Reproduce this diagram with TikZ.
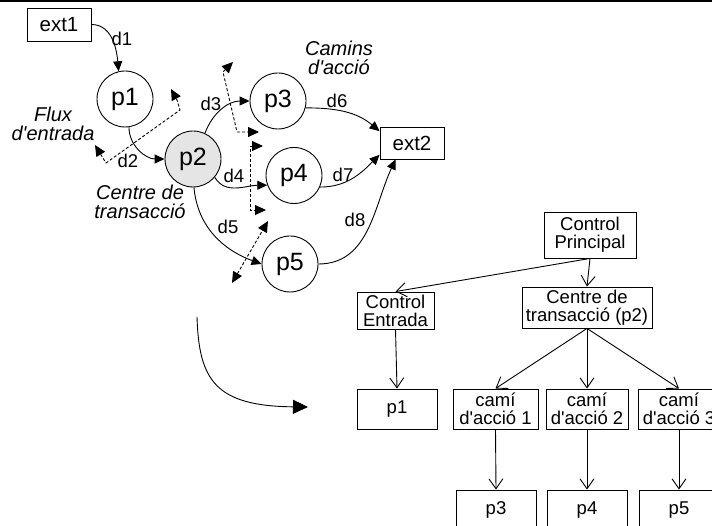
\documentclass[tikz,border=0pt]{standalone}
\usepackage{fontspec}
\setmainfont{Liberation Sans}
\usetikzlibrary{arrows.meta}
\newcommand\ap{\textquotesingle}
\begin{document}
\begin{tikzpicture}[x=1pt,y=1pt,line width=0.9pt,
  ebox/.style={draw,minimum width=64pt,minimum height=33pt,inner sep=0pt,font=\fontsize{20.5}{20}\selectfont},
  proc/.style={draw,circle,minimum size=56pt,inner sep=0pt,font=\fontsize{25}{25}\selectfont},
  dlab/.style={inner sep=0pt,font=\fontsize{18.5}{18}\selectfont},
  ilab/.style={inner sep=0pt,align=center,font=\fontsize{20}{19.5}\selectfont\itshape},
  tbox/.style={draw,inner sep=0pt,align=center,font=\fontsize{18.5}{18}\selectfont},
  flow/.style={-{Triangle[length=10pt,width=9pt]}},
  dflow/.style={dash pattern=on 3pt off 2pt,{Triangle[length=11pt,width=10pt]}-{Triangle[length=11pt,width=10pt]}},
  tarr/.style={-{Straight Barb[length=10pt,width=14pt]}}
]
\clip (0,0) rectangle (712,-526);
\draw[line width=2pt] (0,-1.5) -- (712,-1.5);

% data flow diagram
\node[ebox] (ext1) at (59,-24.5) {ext1};
\node[ebox,minimum height=32pt] (ext2) at (412,-143) {ext2};
\node[proc] (p1) at (125,-99) {p1};
\node[proc,fill=gray!20] (p2) at (193,-159) {p2};
\node[proc] (p3) at (278,-101) {p3};
\node[proc] (p4) at (294,-175.5) {p4};
\node[proc] (p5) at (290,-264) {p5};

\draw[flow] (ext1.east) to[out=0,in=95] (p1.103);
\draw[flow] (p1.-82) to[out=-90,in=180] (p2.180);
\draw[flow] (p2.65) to[out=70,in=180] (p3.180);
\draw[flow] (p2.-40) to[out=-60,in=180] (p4.200);
\draw[flow] (p2.-88) to[out=-85,in=160] (p5.180);
\draw[flow] (p3.-14) to[out=0,in=140] (ext2.160);
\draw[flow] (p4.-24) to[out=0,in=225] (ext2.-160);
\draw[flow] (p5.0) to[out=0,in=-115] (ext2.-135);

\node[dlab] (ld1) at (122,-39) {d1};
\node[dlab] (ld2) at (128,-161) {d2};
\node[dlab] (ld3) at (211,-104) {d3};
\node[dlab] (ld4) at (234,-176) {d4};
\node[dlab] (ld5) at (228,-227) {d5};
\node[dlab] (ld6) at (337,-101) {d6};
\node[dlab] (ld7) at (343,-175) {d7};
\node[dlab] (ld8) at (355,-220) {d8};

\node[ilab] (flux) at (53,-124) {Flux\\d\ap entrada};
\node[ilab] (centre) at (140,-202) {Centre de\\transacció};
\node[ilab] (camins) at (339,-58) {Camins\\d\ap acció};

% dashed boundaries
\draw[dflow] (95,-145) -- (106,-163) -- (180,-110) -- (177,-100) -- (171,-89);
\draw[dflow] (233,-62) -- (223,-72) -- (237,-132) -- (259,-132);
\draw[dflow] (263,-146) -- (250,-146) -- (250,-210) -- (266,-210);
\draw[dflow] (232,-283) -- (268,-221);

% big arrow
\coordinate (bs) at (197,-317);
\coordinate (be) at (308,-407);
\draw[-{Triangle[length=15pt,width=14pt]}] (bs) .. controls (199,-380) and (215,-406) .. (be);

% structure chart
\node[tbox,minimum width=92pt,minimum height=46pt] (cp) at (590,-235) {Control\\Principal};
\node[tbox,minimum width=77pt,minimum height=37pt] (ce) at (395.5,-310.5) {Control\\Entrada};
\node[tbox,minimum width=130pt,minimum height=41pt] (cdt) at (587,-307.5) {Centre de\\transacció (p2)};
\node[tbox,minimum width=80pt,minimum height=40pt] (tp1) at (397,-409) {p1};
\node[tbox,minimum width=85pt,minimum height=40pt] (c1) at (495.5,-409) {camí\\d\ap acció 1};
\node[tbox,minimum width=82pt,minimum height=40pt] (c2) at (587,-409) {camí\\d\ap acció 2};
\node[tbox,minimum width=82pt,minimum height=40pt] (c3) at (679,-409) {camí\\d\ap acció 3};
\node[tbox,minimum width=80pt,minimum height=40pt] (tp3) at (496,-510) {p3};
\node[tbox,minimum width=80pt,minimum height=40pt] (tp4) at (587,-510) {p4};
\node[tbox,minimum width=80pt,minimum height=40pt] (tp5) at (679,-510) {p5};

\draw[tarr] (cp.south) -- (ce.north);
\draw[tarr] (cp.south) -- (cdt.north);
\draw[tarr] (ce.south) -- (tp1.north);
\draw[tarr] (cdt.south) -- (c1.north);
\draw[tarr] (cdt.south) -- (c2.north);
\draw[tarr] (cdt.south) -- (c3.north);
\draw[tarr] (c1.south) -- (tp3.north);
\draw[tarr] (c2.south) -- (tp4.north);
\draw[tarr] (c3.south) -- (tp5.north);
\end{tikzpicture}
\end{document}
